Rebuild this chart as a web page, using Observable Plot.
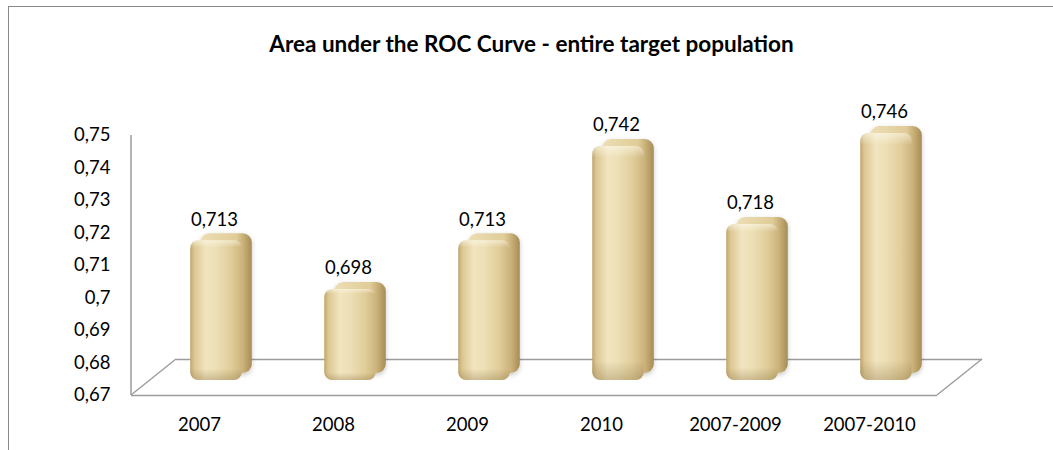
<!DOCTYPE html>
<html><head><meta charset="utf-8">
<script src="https://cdn.jsdelivr.net/npm/d3@7"></script>
<script src="https://cdn.jsdelivr.net/npm/@observablehq/plot@0.6"></script>
<style>
body{margin:0;background:#fff;}
#wrap{position:relative;width:1053px;height:450px;overflow:hidden;font-family:Lato, sans-serif;}
#border{position:absolute;left:8px;top:6px;width:1100px;height:500px;border-left:1px solid #8a8a8a;border-top:1px solid #8a8a8a;}
#title{position:absolute;left:8px;width:1047px;top:0;height:88px;line-height:88px;text-align:center;font-weight:bold;font-size:22.5px;color:#000;}
#chart{position:absolute;left:0;top:90px;}
</style></head><body>
<div id="wrap"><div id="border"></div><div id="title">Area under the ROC Curve - entire target population</div><div id="chart"></div></div>
<script>
const categories = ["2007", "2008", "2009", "2010", "2007-2009", "2007-2010"];
const values = [0.713, 0.698, 0.713, 0.742, 0.718, 0.746];
const yTicks = [0.67, 0.68, 0.69, 0.70, 0.71, 0.72, 0.73, 0.74, 0.75];

const data = categories.map((c, i) => ({cat: c, value: values[i]}));
const fmt = v => String(+(+v).toFixed(3)).replace(".", ",");
const base = yTicks[0];

const plot = Plot.plot({
  width: 1053, height: 360,
  marginLeft: 131, marginRight: 116, marginTop: 45, marginBottom: 55,
  style: {fontFamily: "Lato, sans-serif", fontSize: "18.5px", color: "#000", background: "transparent", overflow: "visible"},
  x: {domain: categories, padding: 0, label: null, tickSize: 0, tickPadding: 22},
  y: {domain: [yTicks[0], yTicks[yTicks.length - 1]], ticks: yTicks, tickFormat: fmt, tickSize: 0, tickPadding: 21, label: null},
  marks: [
    Plot.ruleY([base], {stroke: "#9c9c9c", strokeWidth: 1.5}),
    Plot.ruleY([base], {stroke: "#9c9c9c", strokeWidth: 1.5, dx: 45, dy: -36}),
    Plot.barY(data, {x: "cat", y1: () => base, y2: "value", insetLeft: 41.2, insetRight: 41.2, dx: 27, dy: -22, rx: 9, fill: "#c0a061"}),
    Plot.barY(data, {x: "cat", y1: () => base, y2: "value", insetLeft: 41.2, insetRight: 41.2, dx: 17, dy: -15, rx: 8, fill: "#e8d6a1"}),
    Plot.barY(data, {x: "cat", y1: () => base, y2: "value", insetLeft: 41.2, insetRight: 41.2, dx: 17, dy: -15, rx: 8, fill: "#e8d6a2"}),
    Plot.text(data, {x: "cat", y: "value", text: d => fmt(d.value), dx: 15, dy: -36, fill: "#000"})
  ]
});
document.getElementById("chart").appendChild(plot);

const svg = d3.select(plot);
const defs = svg.insert("defs", ":first-child");
function grad(id, stops, vertical) {
  const g = defs.append("linearGradient").attr("id", id)
    .attr("x1", 0).attr("y1", 0).attr("x2", vertical ? 0 : 1).attr("y2", vertical ? 1 : 0);
  stops.forEach(([o, c, a]) => g.append("stop").attr("offset", o).attr("stop-color", c).attr("stop-opacity", a == null ? 1 : a));
}
grad("frontGrad", [[0, "#bfa66d"], [0.08, "#dcc793"], [0.3, "#f1e4bf"], [0.5, "#ede0b6"], [0.8, "#e0cc99"], [1, "#cdb47d"]]);
grad("backGrad", [[0, "#ecdeb5"], [0.7, "#e0cc98"], [0.85, "#c6ad74"], [1, "#a68c56"]]);
grad("shadeGrad", [[0, "#fffdf0", 0.55], [0.05, "#fffdf0", 0], [0.92, "#7a6030", 0], [1, "#7a6030", 0.3]], true);
const f = defs.append("filter").attr("id", "shadow").attr("x", "-20%").attr("y", "-20%").attr("width", "140%").attr("height", "140%");
f.append("feDropShadow").attr("dx", 0).attr("dy", 2).attr("stdDeviation", 2.5).attr("flood-color", "#000").attr("flood-opacity", 0.22);

svg.selectAll('g[fill="#c0a061"]').attr("fill", "url(#backGrad)").attr("filter", "url(#shadow)");
svg.selectAll('g[fill="#e8d6a1"]').attr("fill", "url(#frontGrad)");
svg.selectAll('g[fill="#e8d6a2"]').attr("fill", "url(#shadeGrad)");

// floor sides and vertical wall edge, from the plot's own scales
const xs = plot.scale("x"), ys = plot.scale("y");
const x0 = Math.min(...xs.range), x1 = Math.max(...xs.range);
const yb = ys.apply(base), yt = ys.apply(yTicks[yTicks.length - 1]);
const floor = svg.insert("g", "g").attr("stroke", "#9c9c9c").attr("stroke-width", 1.5).attr("fill", "none");
floor.append("line").attr("x1", x0).attr("x2", x0).attr("y1", yb).attr("y2", yt);
floor.append("line").attr("x1", x0).attr("x2", x0 + 45).attr("y1", yb).attr("y2", yb - 36);
floor.append("line").attr("x1", x1).attr("x2", x1 + 45).attr("y1", yb).attr("y2", yb - 36);
</script>
</body></html>
